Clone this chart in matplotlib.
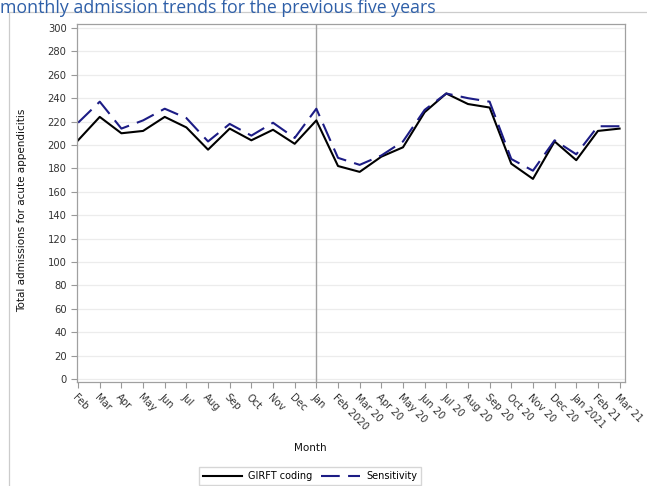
import matplotlib
matplotlib.use("Agg")
import matplotlib.pyplot as plt
from matplotlib.lines import Line2D

meses = ["Feb", "Mar", "Apr", "May", "Jun", "Jul", "Aug", "Sep", "Oct", "Nov",
         "Dec", "Jan", "Feb 2020", "Mar 20", "Apr 20", "May 20", "Jun 20",
         "Jul 20", "Aug 20", "Sep 20", "Oct 20", "Nov 20", "Dec 20",
         "Jan 2021", "Feb 21", "Mar 21"]
girft = [204, 224, 210, 212, 224, 215, 196, 214, 204, 213, 201, 221,
         182, 177, 190, 198, 228, 244, 235, 232, 184, 171, 203, 187, 212, 214]
sensibilidade = [219, 237, 214, 221, 231, 223, 203, 218, 208, 219, 206, 231,
                 189, 183, 191, 203, 230, 244, 240, 237, 188, 178, 204, 192, 216, 216]
yticks = list(range(0, 301, 20))

W, H = 647, 486
fig = plt.figure(figsize=(W / 100, H / 100), dpi=100)
ax = fig.add_axes([77 / W, 1 - 382 / H, (625 - 77) / W, (382 - 24) / H])

x = list(range(len(meses)))
ax.plot(x, girft, color="black", lw=1.5, label="GIRFT coding")
ax.plot(x, sensibilidade, color="#1c1c85", lw=1.5, dashes=(9, 4),
        label="Sensitivity")
ax.axvline(11, color="#a0a0a0", lw=1.0, zorder=1)

ax.set_xlim(-0.05, 25.25)
ax.set_ylim(-2.6, 303.4)
ax.set_yticks(yticks)
ax.set_xticks(x)
ax.tick_params(colors="#999999", length=4, width=0.8)
ax.set_xticklabels(meses, rotation=-45, ha="left", va="top",
                   rotation_mode="anchor", fontsize=7.2, color="#333333")
ax.tick_params(axis="y", labelsize=7.2, labelcolor="#333333")
ax.grid(axis="y", color="#ececec", lw=0.9)
ax.set_axisbelow(True)
for s in ax.spines.values():
    s.set_color("#a0a0a0")
    s.set_linewidth(0.9)

ax.set_ylabel("Total admissions for acute appendicitis", fontsize=7.5,
              color="#111111")
ax.yaxis.set_label_coords(-0.092, 0.48)

fig.text(310 / W, 1 - 448 / H, "Month", ha="center", va="center",
         fontsize=7.5, color="#111111")
fig.legend(loc="center", bbox_to_anchor=(310 / W, 1 - 476 / H), ncol=2,
           fontsize=7, frameon=True, fancybox=False, edgecolor="#cccccc",
           handlelength=4, borderpad=0.4, columnspacing=1.0,
           handletextpad=0.6)

# moldura externa (topo e esquerda)
fig.add_artist(Line2D([9 / W, 1], [1 - 12 / H, 1 - 12 / H],
                      transform=fig.transFigure, color="#cccccc", lw=0.9))
fig.add_artist(Line2D([9 / W, 9 / W], [0, 1 - 12 / H],
                      transform=fig.transFigure, color="#cccccc", lw=0.9))

# título cortado no topo, como no original
fig.text(0, 1 - 13 / H, "monthly admission trends for the previous five years",
         ha="left", va="baseline", fontsize=12.8, color="#2e5fa8",
         family=["Liberation Sans Narrow", "Open Sans"])

fig.savefig("out.png", facecolor="white")
